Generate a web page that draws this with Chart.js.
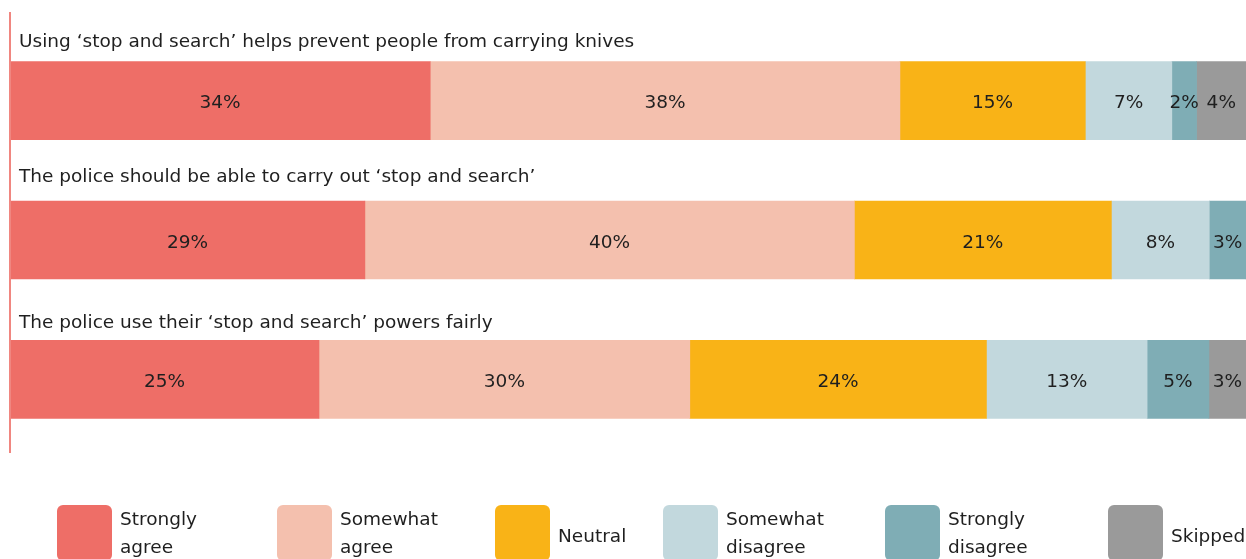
<!DOCTYPE html>
<html>
<head>
<meta charset="utf-8">
<script src="https://cdn.jsdelivr.net/npm/chart.js@4.4.0/dist/chart.umd.min.js"></script>
<style>
  html, body { margin: 0; padding: 0; background: #fff; }
  body { width: 1246px; height: 559px; overflow: hidden; position: relative; font-family: "DejaVu Sans", sans-serif; }
  #wrap { position: absolute; left: 0; top: 0; width: 1246px; height: 559px; }
  #legend { position: absolute; left: 0; top: 505px; width: 1246px; height: 60px; }
  .item { position: absolute; top: 0; display: flex; align-items: center; height: 56px; }
  .swatch { width: 55px; height: 56px; border-radius: 6px; flex: none; }
  .lbl { margin-left: 8px; font-size: 18.5px; line-height: 28px; color: #1f1f1f; width: 118px; }
  .lbl.single { padding-top: 5px; }
</style>
</head>
<body>
<div id="wrap"><canvas id="surveyChart" width="1246" height="559"></canvas></div>
<div id="legend"></div>
<script>
const questions = [
  "Using ‘stop and search’ helps prevent people from carrying knives",
  "The police should be able to carry out ‘stop and search’",
  "The police use their ‘stop and search’ powers fairly"
];
const responses = ["Strongly agree", "Somewhat agree", "Neutral", "Somewhat disagree", "Strongly disagree", "Skipped"];

// percentage per response, one entry per question
const stronglyAgree = [34, 29, 25];
const somewhatAgree = [38, 40, 30];
const neutral = [15, 21, 24];
const somewhatDisagree = [7, 8, 13];
const stronglyDisagree = [2, 3, 5];
const skipped = [4, 0, 3];

const colours = ["#ee6e67", "#f4c0ae", "#f9b317", "#c2d8dd", "#7fadb5", "#9a9a9a"];
const legendLeft = [57, 277, 495, 663, 885, 1108];
const titleGap = [15, 19, 12];

const FONT = '"DejaVu Sans", sans-serif';

const series = [stronglyAgree, somewhatAgree, neutral, somewhatDisagree, stronglyDisagree, skipped];

// rounded percentages don't always add to 100, so each row is scaled to fill the bar
const rowTotals = questions.map((q, i) => series.reduce((s, arr) => s + arr[i], 0));

// left hand rule + question headings + value labels
const decorations = {
  id: "decorations",
  afterDatasetsDraw(chart) {
    const ctx = chart.ctx;
    ctx.save();

    ctx.fillStyle = "#f08680";
    ctx.fillRect(9, 12, 2, 441);

    ctx.font = "18.5px " + FONT;
    ctx.fillStyle = "#1f1f1f";
    ctx.textAlign = "left";
    ctx.textBaseline = "alphabetic";
    const first = chart.getDatasetMeta(0);
    questions.forEach((q, i) => {
      const bar = first.data[i];
      const top = bar.y - bar.height / 2;
      ctx.fillText(q, 19, top - titleGap[i]);
    });

    ctx.font = "18.5px " + FONT;
    ctx.textAlign = "center";
    ctx.textBaseline = "middle";
    series.forEach((values, d) => {
      const meta = chart.getDatasetMeta(d);
      meta.data.forEach((bar, i) => {
        const v = values[i];
        if (!v) return;
        ctx.fillText(v + "%", (bar.x + bar.base) / 2, bar.y + 3);
      });
    });
    ctx.restore();
  }
};

new Chart(document.getElementById("surveyChart").getContext("2d"), {
  type: "bar",
  data: {
    labels: questions,
    datasets: responses.map((r, i) => ({
      label: r,
      data: series[i].map((v, j) => (v / rowTotals[j]) * 100),
      backgroundColor: colours[i],
      borderWidth: 0,
      barThickness: 78
    }))
  },
  options: {
    indexAxis: "y",
    responsive: false,
    animation: false,
    layout: { padding: { left: 10, right: 0, top: 31, bottom: 110 } },
    scales: {
      x: { stacked: true, min: 0, max: 100, display: false },
      y: { stacked: true, display: false }
    },
    plugins: {
      legend: { display: false },
      tooltip: { enabled: false }
    }
  },
  plugins: [decorations]
});

// legend below the bars
const legend = document.getElementById("legend");
responses.forEach((r, i) => {
  const item = document.createElement("div");
  item.className = "item";
  item.style.left = legendLeft[i] + "px";
  const cls = r.indexOf(" ") < 0 ? "lbl single" : "lbl";
  item.innerHTML = '<div class="swatch" style="background:' + colours[i] + '"></div><div class="' + cls + '">' + r + "</div>";
  legend.appendChild(item);
});
</script>
</body>
</html>
